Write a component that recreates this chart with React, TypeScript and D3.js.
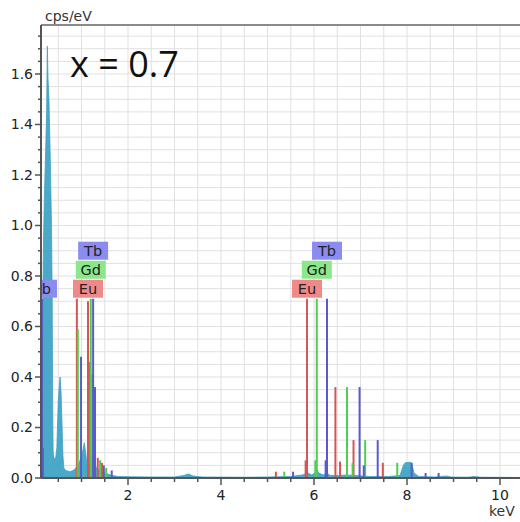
import * as d3 from 'd3';

const W = 520;
const H = 522;

// measured spectrum (keV, cps/eV)
const specKeV = [0.15, 0.16, 0.18, 0.2, 0.23, 0.25, 0.265, 0.28, 0.3, 0.33, 0.355, 0.37, 0.38, 0.39, 0.41, 0.44, 0.47, 0.5, 0.52, 0.54, 0.56, 0.58, 0.6, 0.62, 0.66, 0.75, 0.82, 0.88, 0.95, 1.02, 1.06, 1.09, 1.12, 1.18, 1.22, 1.27, 1.32, 1.4, 1.5, 1.65, 1.8, 2.0, 2.5, 3.0, 3.2, 3.3, 3.4, 3.6, 4.5, 5.0, 5.5, 5.75, 5.87, 5.95, 6.02, 6.06, 6.1, 6.2, 6.28, 6.35, 6.5, 6.7, 6.9, 7.2, 7.6, 7.85, 7.92, 7.96, 8.05, 8.1, 8.15, 8.25, 8.6, 8.85, 8.95, 9.3, 9.45, 9.6, 10.5];
const specCps = [0.0, 0.5, 0.9, 1.1, 1.3, 1.45, 1.71, 1.58, 1.5, 1.25, 1.0, 0.7, 0.3, 0.1, 0.08, 0.07, 0.12, 0.3, 0.36, 0.4, 0.34, 0.22, 0.09, 0.04, 0.03, 0.025, 0.03, 0.04, 0.06, 0.1, 0.14, 0.1, 0.05, 0.06, 0.08, 0.06, 0.04, 0.03, 0.02, 0.01, 0.006, 0.005, 0.004, 0.004, 0.01, 0.016, 0.008, 0.004, 0.003, 0.004, 0.006, 0.012, 0.02, 0.012, 0.02, 0.035, 0.02, 0.012, 0.02, 0.01, 0.01, 0.012, 0.01, 0.006, 0.006, 0.01, 0.05, 0.06, 0.062, 0.06, 0.02, 0.006, 0.004, 0.008, 0.004, 0.003, 0.006, 0.003, 0.002];

// element marker lines (keV, height)
const euKeV = [0.9, 1.14, 1.16, 1.35, 1.44, 5.18, 5.82, 5.85, 6.46, 6.56, 6.85, 7.48];
const euCps = [0.71, 0.7, 0.46, 0.08, 0.06, 0.025, 0.07, 0.71, 0.36, 0.065, 0.15, 0.06];
const gdKeV = [0.92, 1.2, 1.23, 1.4, 1.53, 5.36, 6.03, 6.06, 6.71, 6.83, 7.1, 7.79];
const gdCps = [0.59, 0.71, 0.41, 0.07, 0.04, 0.025, 0.07, 0.71, 0.36, 0.06, 0.15, 0.06];
const tbKeV = [0.15, 0.17, 0.99, 1.25, 1.29, 1.48, 1.65, 5.55, 6.25, 6.28, 6.98, 7.07, 7.37, 8.1, 8.4, 8.68];
const tbCps = [0.71, 0.12, 0.48, 0.71, 0.36, 0.05, 0.03, 0.025, 0.07, 0.71, 0.36, 0.05, 0.15, 0.06, 0.02, 0.02];

const elements = ['Eu', 'Gd', 'Tb'];
const lineColor: Record<string, string> = { Eu: '#d65454', Gd: '#4fcf4f', Tb: '#5a5ad0' };
const boxColor: Record<string, string> = { Eu: '#f08a8a', Gd: '#8ae88a', Tb: '#8c8cf0' };

const labelEl = ['Tb', 'Eu', 'Gd', 'Tb', 'Eu', 'Gd', 'Tb'];
const labelKeV = [0.15, 1.14, 1.2, 1.25, 5.85, 6.06, 6.28];
const labelLevel = [0, 0, 1, 2, 0, 1, 2];

const yTicks = d3.range(0, 1.76, 0.05);
const xTicks = d3.range(0.5, 10.5, 0.5);

export default function App() {
  const left = 41, top = 25, right = 520, bottom = 478;
  const x = d3.scaleLinear().domain([0.129, 10.43]).range([left, right]);
  const y = d3.scaleLinear().domain([0, 1.794]).range([bottom, top]);

  const pts = specKeV.map((k, i) => [k, specCps[i]] as [number, number]);
  const area = d3.area<[number, number]>()
    .x(d => x(d[0]))
    .y0(y(0))
    .y1(d => y(d[1]))(pts) || '';

  const lineSets: Record<string, [number[], number[]]> = {
    Eu: [euKeV, euCps],
    Gd: [gdKeV, gdCps],
    Tb: [tbKeV, tbCps],
  };

  const font = 'DejaVu Sans, Verdana, sans-serif';
  const lineTop = y(0.71);

  return (
    <svg width={W} height={H} style={{ position: 'absolute', left: 0, top: 0, background: '#fff' }}>
      <defs>
        <clipPath id="plot">
          <rect x={left} y={top} width={right - left} height={bottom - top} />
        </clipPath>
      </defs>
      <rect width={W} height={H} fill="#fff" />

      {/* grid */}
      {yTicks.slice(1).map(t => (
        <line key={'gy' + t} x1={left} x2={right} y1={y(t)} y2={y(t)} stroke="#e0e0e0" strokeWidth={1} />
      ))}
      {xTicks.map(t => (
        <line key={'gx' + t} x1={x(t)} x2={x(t)} y1={top} y2={bottom} stroke="#e0e0e0" strokeWidth={1} />
      ))}

      <g clipPath="url(#plot)">
        <path d={area} fill="#4aa8c8" stroke="#3f9fc2" strokeWidth={0.8} />
        {elements.map(el =>
          lineSets[el][0].map((k, i) => (
            <line key={el + i} x1={x(k)} x2={x(k)} y1={y(0)} y2={y(lineSets[el][1][i])}
              stroke={lineColor[el]} strokeWidth={2} />
          ))
        )}
        {labelEl.map((el, i) => {
          const cx = x(labelKeV[i]);
          const by = lineTop - 19 - labelLevel[i] * 19;
          return (
            <g key={'lb' + i}>
              <rect x={cx - 15} y={by} width={30} height={18} fill={boxColor[el]} />
              <text x={cx} y={by + 14} textAnchor="middle" fontFamily={font} fontSize={14.5} fill="#222">{el}</text>
            </g>
          );
        })}
      </g>

      {/* frame */}
      <line x1={left} x2={right} y1={top} y2={top} stroke="#8a8a8a" strokeWidth={2} />
      <line x1={left} x2={left} y1={top} y2={bottom} stroke="#555" strokeWidth={2} />
      <line x1={left} x2={right} y1={bottom} y2={bottom} stroke="#555" strokeWidth={2} />

      {/* y axis ticks */}
      {yTicks.map(t => {
        const major = Math.abs(t / 0.2 - Math.round(t / 0.2)) < 1e-6;
        return (
          <g key={'ty' + t}>
            <line x1={left - (major ? 6 : 3)} x2={left} y1={y(t)} y2={y(t)} stroke="#555" strokeWidth={1.5} />
            {major && (
              <text x={left - 8} y={y(t)} dy="0.35em" textAnchor="end" fontFamily={font} fontSize={14} fill="#222">
                {t.toFixed(1)}
              </text>
            )}
          </g>
        );
      })}

      {/* x axis ticks */}
      {xTicks.map(t => {
        const major = Math.abs(t % 2) < 1e-6;
        return (
          <g key={'tx' + t}>
            <line x1={x(t)} x2={x(t)} y1={bottom} y2={bottom + (major ? 7 : 4)} stroke="#555" strokeWidth={1.5} />
            {major && (
              <text x={x(t)} y={500} textAnchor="middle" fontFamily={font} fontSize={14} fill="#222">{t}</text>
            )}
          </g>
        );
      })}

      <text x={45} y={21} fontFamily={font} fontSize={14} fill="#333">cps/eV</text>
      <text x={489} y={516} fontFamily={font} fontSize={14} fill="#333">keV</text>
      <text x={70} y={77} fontFamily="Open Sans, sans-serif" fontSize={36} fill="#111">x = 0.7</text>
    </svg>
  );
}
